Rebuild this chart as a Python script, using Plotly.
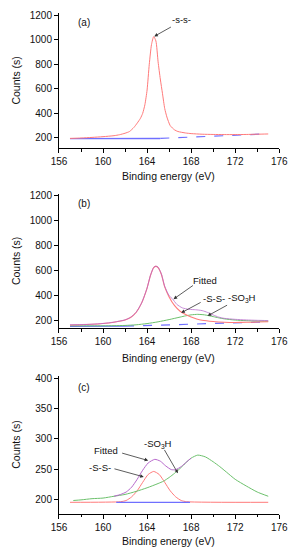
import plotly.graph_objects as go

# ---------------- data ----------------
# Panel (a)
a_env_x = [157, 158, 159, 160, 161, 161.5, 162, 162.4, 162.8, 163.1, 163.4, 163.6, 163.8, 164.0,
           164.2, 164.4, 164.6, 164.8, 165.0, 165.2, 165.4, 165.6, 165.8, 166.1, 166.5, 166.8,
           167.5, 168, 169, 170, 171, 172, 173, 174, 175]
a_env_y = [196, 199, 204, 210, 218, 226, 238, 252, 285, 320, 360, 400, 470, 590,
           800, 960, 1025, 990, 820, 680, 560, 440, 370, 300, 265, 252,
           240, 235, 230, 228, 227, 227, 228, 230, 232]
a_base_solid_x = [157, 165.2]
a_base_solid_y = [194, 195]
a_base_dash_x = [165.2, 175]
a_base_dash_y = [196, 233]

# Panel (b)
b_ss_x = [157, 158, 159, 160, 161, 162, 162.5, 163, 163.5, 164, 164.3, 164.6, 164.8, 165.0, 165.3,
          165.6, 166, 166.5, 167, 167.5, 168, 168.5, 169, 170, 171, 172, 173, 174, 175]
b_ss_y = [165, 167, 170, 176, 187, 205, 225, 265, 340, 460, 560, 625, 635, 625, 570,
          470, 390, 320, 275, 248, 228, 213, 203, 193, 187, 185, 186, 188, 190]
b_fit_x = [157, 158, 159, 160, 161, 162, 162.5, 163, 163.5, 164, 164.3, 164.6, 164.8, 165.0, 165.3,
           165.6, 166, 166.3, 166.7, 167.2, 167.8, 168.4, 169, 169.5, 170, 170.5, 171, 172, 173, 174, 175]
b_fit_y = [166, 168, 171, 177, 188, 206, 226, 266, 341, 461, 561, 627, 637, 628, 574,
           476, 400, 375, 330, 302, 290, 287, 280, 265, 245, 228, 218, 210, 205, 202, 200]
b_so3h_x = [157, 158, 159, 160, 161, 162, 163, 164, 165, 166, 167, 167.5, 168, 168.6, 169.2,
            170, 170.5, 171, 172, 173, 174, 175]
b_so3h_y = [158, 158, 158, 158, 159, 161, 166, 176, 190, 208, 228, 238, 246, 250, 246,
            232, 222, 214, 204, 199, 196, 195]
b_base_solid_x = [157, 162]
b_base_solid_y = [153, 155]
b_base_dash_x = [162, 175]
b_base_dash_y = [155, 190]

# Panel (c)
c_ss_x = [157, 161.6, 162.1, 162.6, 163.1, 163.6, 164.1, 164.6, 165.1, 165.6, 166.1, 166.6,
          167.1, 167.6, 175]
c_ss_y = [195, 196, 198, 204, 214, 228, 241, 246, 241, 228, 214, 204, 198, 196, 195]
c_so3h_x = [157.3, 158, 159, 160, 161, 162, 163, 164, 165, 165.5, 166, 166.5, 167, 167.5, 168,
            168.6, 169.3, 170, 170.6, 171.2, 172, 173, 174, 175]
c_so3h_y = [198, 199, 201, 202, 205, 208, 213, 219, 226, 230, 236, 243, 251, 260, 268,
            273, 270, 262, 254, 245, 233, 222, 212, 205]
c_fit_x = [161, 161.6, 162.1, 162.6, 163.1, 163.6, 164.1, 164.7, 165.2, 165.7, 166.2, 166.6,
           167.1, 167.6, 168]
c_fit_y = [205, 208, 212, 220, 233, 248, 260, 266, 263, 255, 249, 249, 254, 262, 268]
c_base_x = [161.2, 167.9]
c_base_y = [195, 195]

x_ticks = [156, 160, 164, 168, 172, 176]

RED = "#ff7a7a"
GREEN = "#6cc06c"
BLUE = "#6f6fff"
PURPLE = "#b768cc"
FONT = "Liberation Sans, Arial, sans-serif"

fig = go.Figure()


def line(x, y, color, xa, ya, dash="solid", width=1.0, opacity=1.0):
    fig.add_trace(go.Scatter(x=x, y=y, mode="lines", xaxis=xa, yaxis=ya, opacity=opacity,
                             line=dict(color=color, width=width, dash=dash, shape="spline",
                                       smoothing=0.6),
                             showlegend=False, hoverinfo="skip"))


# (a)
line(a_base_solid_x, a_base_solid_y, BLUE, "x", "y", width=1.3)
line(a_base_dash_x, a_base_dash_y, BLUE, "x", "y", dash="dash", width=1.2)
line(a_env_x, a_env_y, RED, "x", "y")
# (b)
line(b_base_solid_x, b_base_solid_y, BLUE, "x2", "y2", width=1.3)
line(b_base_dash_x, b_base_dash_y, BLUE, "x2", "y2", dash="dash", width=1.2)
line(b_so3h_x, b_so3h_y, GREEN, "x2", "y2")
line(b_ss_x, b_ss_y, RED, "x2", "y2", width=1.1)
line(b_fit_x, b_fit_y, PURPLE, "x2", "y2", opacity=0.75)
# (c)
line(c_ss_x, c_ss_y, RED, "x3", "y3")
line(c_base_x, c_base_y, BLUE, "x3", "y3", width=1.3)
line(c_so3h_x, c_so3h_y, GREEN, "x3", "y3")
line(c_fit_x, c_fit_y, PURPLE, "x3", "y3")

H = 550.0
XD = [54 / 304, 287.3 / 304]


def ydom(top_px, bot_px):
    return [(H - bot_px) / H, (H - top_px) / H]


axis_common = dict(showline=True, linecolor="black", linewidth=1, ticks="outside", ticklen=4,
                   tickwidth=1, tickcolor="black", showgrid=False, zeroline=False,
                   tickfont=dict(family=FONT, size=10, color="#111"))
xcommon = dict(axis_common, range=[156, 176], tickvals=x_ticks, domain=XD,
               minor=dict(ticks="outside", ticklen=2.5, tickcolor="black", dtick=2, tick0=156,
                          showgrid=False))

fig.update_layout(
    width=304, height=550, margin=dict(l=0, r=0, t=0, b=0),
    paper_bgcolor="white", plot_bgcolor="white", showlegend=False,
    xaxis=dict(xcommon, anchor="y"),
    yaxis=dict(axis_common, range=[116, 1218], dtick=200, tick0=0, domain=ydom(10, 146),
               anchor="x"),
    xaxis2=dict(xcommon, anchor="y2"),
    yaxis2=dict(axis_common, range=[138.7, 1216], dtick=200, tick0=0, domain=ydom(192, 327),
                anchor="x2"),
    xaxis3=dict(xcommon, anchor="y3"),
    yaxis3=dict(axis_common, range=[176.5, 403.8], dtick=50, tick0=0, domain=ydom(375, 513.3),
                anchor="x3"),
)

ann = []
# axis titles
for ytitle_px, xtitle_px in [((10 + 146) / 2, 174), ((192 + 327) / 2, 357), ((375 + 513.3) / 2, 541)]:
    ann.append(dict(text="Counts (s)", xref="paper", yref="paper", x=8.5 / 304, y=(H - ytitle_px) / H,
                    textangle=-90, showarrow=False, xanchor="center", yanchor="middle",
                    font=dict(family=FONT, size=10.5, color="#111")))
    ann.append(dict(text="Binding energy (eV)", xref="paper", yref="paper", x=170.5 / 304,
                    y=(H - xtitle_px) / H, showarrow=False, xanchor="center", yanchor="middle",
                    font=dict(family=FONT, size=10.5, color="#111")))

lab_font = dict(family=FONT, size=10, color="#111")
# panel labels
ann.append(dict(text="(a)", x=158.3, y=1140, xref="x", yref="y", showarrow=False, font=lab_font))
ann.append(dict(text="(b)", x=158.3, y=1136, xref="x2", yref="y2", showarrow=False, font=lab_font))
ann.append(dict(text="(c)", x=158.3, y=385, xref="x3", yref="y3", showarrow=False, font=lab_font))

small = dict(family=FONT, size=9.5, color="#111")
ann.append(dict(text="-s-s-", x=167.1, y=1162, xref="x", yref="y", showarrow=False, font=small))
ann.append(dict(text="Fitted", x=169.3, y=520, xref="x2", yref="y2", showarrow=False, font=small))
ann.append(dict(text="-S-S-", x=170.1, y=378, xref="x2", yref="y2", showarrow=False, font=small))
ann.append(dict(text="-SO<sub>3</sub>H", x=172.6, y=378, xref="x2", yref="y2", showarrow=False, font=small))
ann.append(dict(text="Fitted", x=160.3, y=280, xref="x3", yref="y3", showarrow=False, font=small))
ann.append(dict(text="-S-S-", x=159.7, y=252, xref="x3", yref="y3", showarrow=False, font=small))
ann.append(dict(text="-SO<sub>3</sub>H", x=165.0, y=292, xref="x3", yref="y3", showarrow=False, font=small))

arrows = [
    ("x", "y", 164.65, 1027, 166.3, 1110),
    ("x2", "y2", 166.4, 372, 168.3, 490),
    ("x2", "y2", 167.1, 262, 169.0, 352),
    ("x2", "y2", 169.5, 238, 171.4, 330),
    ("x3", "y3", 164.1, 264, 161.6, 277),
    ("x3", "y3", 163.7, 237, 160.9, 251),
    ("x3", "y3", 166.8, 243, 165.5, 284),
]
for xr, yr, x, y, ax, ay in arrows:
    ann.append(dict(x=x, y=y, ax=ax, ay=ay, xref=xr, yref=yr, axref=xr, ayref=yr, text="",
                    showarrow=True, arrowhead=2, arrowsize=0.9, arrowwidth=0.8,
                    arrowcolor="#333"))

fig.update_layout(annotations=ann)
fig.write_html("out.html", config={"displayModeBar": False},
               post_script="document.body.style.margin='0';document.body.style.overflow='hidden';")
